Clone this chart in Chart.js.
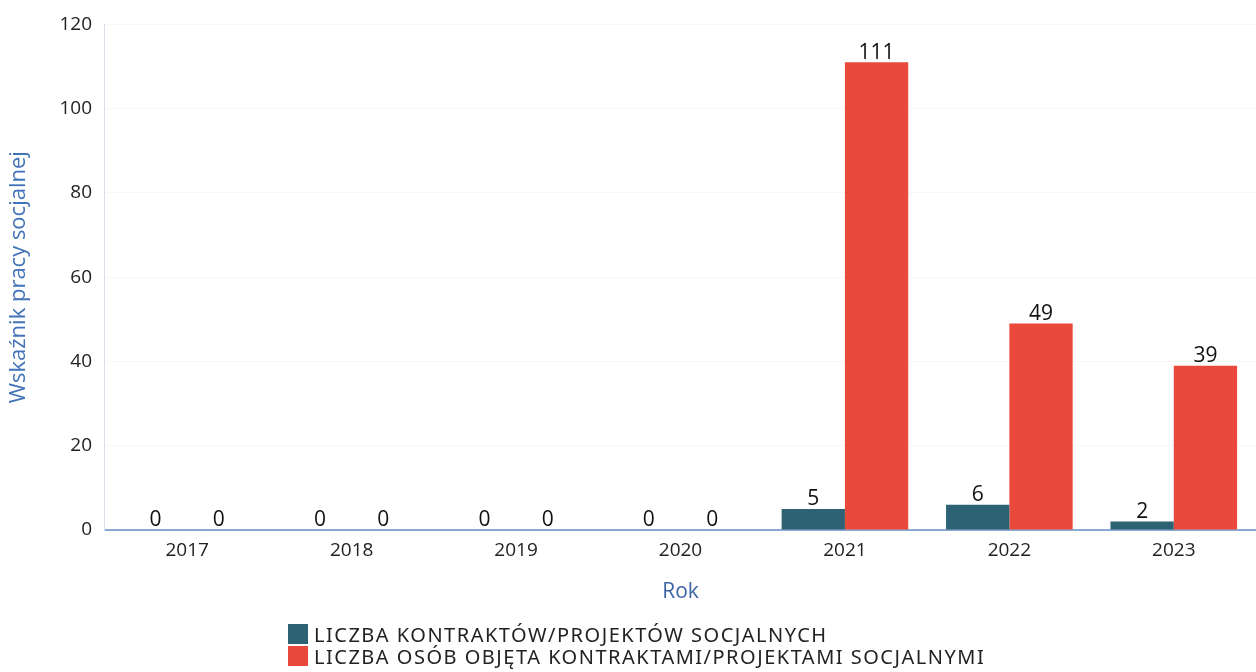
<!DOCTYPE html>
<html>
<head>
<meta charset="utf-8">
<script src="https://cdn.jsdelivr.net/npm/chart.js@4/dist/chart.umd.min.js"></script>
<style>
    body { margin: 0; background: #fff; }
    #wrap { position: relative; width: 1256px; height: 672px; }
    #legend { position: absolute; left: 288px; top: 623px; font-family: "Noto Sans", sans-serif; font-size: 20px; letter-spacing: 1.5px; color: #222; }
    .item { display: flex; align-items: center; height: 22px; }
    .box { width: 20px; height: 20px; margin-right: 6px; }
</style>
</head>
<body>
<div id="wrap">
    <canvas id="chart" width="1256" height="672"></canvas>
    <div id="legend"></div>
</div>
<script>
const years = ['2017', '2018', '2019', '2020', '2021', '2022', '2023'];
const contracts = [0, 0, 0, 0, 5, 6, 2];
const persons = [0, 0, 0, 0, 111, 49, 39];
const seriesNames = [
    'LICZBA KONTRAKTÓW/PROJEKTÓW SOCJALNYCH',
    'LICZBA OSÓB OBJĘTA KONTRAKTAMI/PROJEKTAMI SOCJALNYMI'
];
const seriesColors = ['#2d6174', '#e9493b'];

const fontFamily = '"Open Sans", "Noto Sans", sans-serif';

// values over the bars
const valueLabels = {
    id: 'valueLabels',
    afterDatasetsDraw(chart) {
        const ctx = chart.ctx;
        ctx.save();
        ctx.font = '21px ' + fontFamily;
        ctx.fillStyle = '#111';
        ctx.textAlign = 'center';
        ctx.textBaseline = 'bottom';
        chart.data.datasets.forEach((ds, i) => {
            chart.getDatasetMeta(i).data.forEach((bar, j) => {
                ctx.fillText(ds.data[j], bar.x, bar.y + 1);
            });
        });
        ctx.restore();
    }
};

const chart = new Chart(document.getElementById('chart'), {
    type: 'bar',
    data: {
        labels: years,
        datasets: [{
            label: seriesNames[0],
            data: contracts,
            backgroundColor: seriesColors[0],
            categoryPercentage: 0.77,
            barPercentage: 1.0
        }, {
            label: seriesNames[1],
            data: persons,
            backgroundColor: seriesColors[1],
            categoryPercentage: 0.77,
            barPercentage: 1.0
        }]
    },
    options: {
        responsive: false,
        animation: false,
        layout: { padding: { top: 23, right: 0, bottom: 63, left: 2 } },
        plugins: {
            legend: { display: false },
            tooltip: { enabled: false }
        },
        scales: {
            x: {
                grid: { display: false, drawTicks: false },
                border: { color: '#8aaad4', width: 2 },
                ticks: { color: '#222', font: { family: fontFamily, size: 19 }, padding: 9 },
                title: { display: true, text: 'Rok', color: '#3d65a6', font: { family: fontFamily, size: 21 }, padding: { top: 9 } }
            },
            y: {
                min: 0,
                max: 120,
                ticks: { stepSize: 20, color: '#222', font: { family: fontFamily, size: 19 }, padding: 13 },
                grid: { color: '#f7f7f7', drawTicks: false },
                border: { color: '#d8e0ea', width: 1 },
                title: { display: true, text: 'Wskaźnik pracy socjalnej', color: '#4273b8', font: { family: fontFamily, size: 22 }, padding: { bottom: 14 } }
            }
        }
    },
    plugins: [valueLabels]
});

// legend as two rows under the chart
const legendDiv = document.getElementById('legend');
chart.data.datasets.forEach((ds) => {
    const row = document.createElement('div');
    row.className = 'item';
    const box = document.createElement('span');
    box.className = 'box';
    box.style.background = ds.backgroundColor;
    const text = document.createElement('span');
    text.textContent = ds.label;
    row.appendChild(box);
    row.appendChild(text);
    legendDiv.appendChild(row);
});
</script>
</body>
</html>
